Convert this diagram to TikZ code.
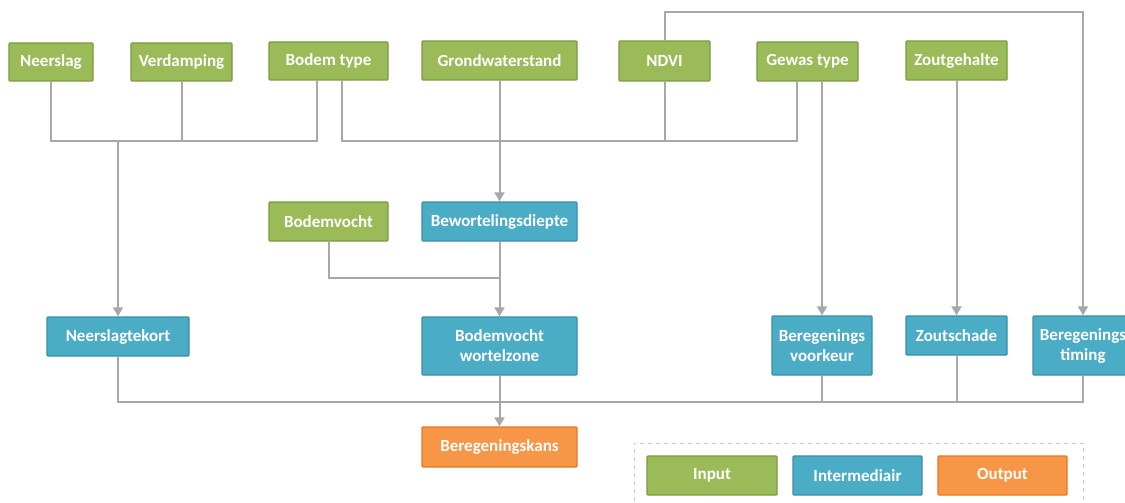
\documentclass[tikz,border=0pt]{standalone}
\usepackage{fontspec}
\setmainfont{Carlito}
\usetikzlibrary{arrows.meta}
\definecolor{ingreen}{HTML}{9BBB59}
\definecolor{ingreenb}{HTML}{7A9A3E}
\definecolor{midblue}{HTML}{4BACC6}
\definecolor{midblueb}{HTML}{3A8FA6}
\definecolor{outorange}{HTML}{F79646}
\definecolor{outorangeb}{HTML}{E9781E}
\definecolor{conngray}{HTML}{A8A8A8}
\definecolor{leggray}{HTML}{C8C8C8}
\tikzset{
  box/.style={draw, line width=1.4pt, rounded corners=1pt, inner sep=0pt,
    text=white, align=center, font=\fontsize{17}{20}\selectfont\bfseries},
  inbox/.style={box, fill=ingreen, draw=ingreenb},
  midbox/.style={box, fill=midblue, draw=midblueb},
  outbox/.style={box, fill=outorange, draw=outorangeb},
  wire/.style={draw=conngray, line width=2pt},
  arr/.style={wire, -{Triangle[width=10pt,length=9pt]}},
}
\begin{document}
\begin{tikzpicture}[x=1pt,y=-1pt]
\useasboundingbox (0,0) rectangle (1125,503);
\clip (0,0) rectangle (1125,503);
\fill[white] (0,0) rectangle (1125,503);

% top row (inputs)
\node[inbox, minimum width=84pt, minimum height=38pt] (neer) at (51,62) {Neerslag};
\node[inbox, minimum width=101pt, minimum height=38pt] (verd) at (181.5,62) {Verdamping};
\node[inbox, minimum width=119pt, minimum height=38pt] (bodem) at (328.5,61) {Bodem type};
\node[inbox, minimum width=155pt, minimum height=39pt] (grond) at (499.5,60.5) {Grondwaterstand};
\node[inbox, minimum width=91pt, minimum height=40pt] (ndvi) at (664.5,61) {NDVI};
\node[inbox, minimum width=101pt, minimum height=39pt] (gewas) at (807.5,61.5) {Gewas type};
\node[inbox, minimum width=101pt, minimum height=39pt] (zout) at (956.5,60.5) {Zoutgehalte};

% middle row
\node[inbox, minimum width=119pt, minimum height=39pt] (bvocht) at (328.5,221.5) {Bodemvocht};
\node[midbox, minimum width=155pt, minimum height=39pt] (bewort) at (499.5,221.5) {Bewortelingsdiepte};

% third row
\node[midbox, minimum width=142pt, minimum height=39pt] (ntek) at (118,336.5) {Neerslagtekort};
\node[midbox, minimum width=155pt, minimum height=58pt] (wz) at (499.5,346) {Bodemvocht\\wortelzone};
\node[midbox, minimum width=100pt, minimum height=59pt] (vk) at (822,345.5) {Beregenings\\voorkeur};
\node[midbox, minimum width=101pt, minimum height=39pt] (zs) at (956.5,335.5) {Zoutschade};
\node[midbox, minimum width=100pt, minimum height=59pt] (timing) at (1083,345.5) {Beregenings\\timing};

% output
\node[outbox, minimum width=155pt, minimum height=40pt] (kans) at (499.5,447) {Beregeningskans};

% junction coordinates
\coordinate (h1) at (118,141);
\coordinate (h2) at (500,141);
\coordinate (h3) at (500,278);
\coordinate (h4) at (500,402);
\coordinate (topline) at (0,12);
\path ([xshift=-12pt]bodem.south) coordinate (bodemL);
\path ([xshift=13pt]bodem.south) coordinate (bodemR);
\path ([xshift=-11pt]gewas.south) coordinate (gewasL);
\path ([xshift=14.5pt]gewas.south) coordinate (gewasR);

% connectors: Neerslag, Verdamping, Bodem type -> Neerslagtekort
\draw[wire] (neer.south) |- (bodemL |- h1) -- (bodemL);
\draw[wire] (verd.south) -- (verd.south |- h1);
\draw[arr] (h1) -- (ntek.north);

% Bodem type, NDVI, Gewas type, Grondwaterstand -> Bewortelingsdiepte
\draw[wire] (bodemR) |- (gewasL |- h2) -- (gewasL);
\draw[wire] (ndvi.south) -- (ndvi.south |- h2);
\draw[arr] (grond.south) -- (bewort.north);

% Gewas type -> Beregenings voorkeur
\draw[arr] (gewasR) -- (gewasR |- vk.north);
% NDVI -> Beregenings timing
\draw[arr] (ndvi.north) |- (timing.north |- topline) -- (timing.north);
% Zoutgehalte -> Zoutschade
\draw[arr] (zout.south) -- (zs.north);

% Bodemvocht, Bewortelingsdiepte -> Bodemvocht wortelzone
\draw[wire] (bvocht.south) |- (h3);
\draw[arr] (bewort.south) -- (wz.north);

% intermediates -> Beregeningskans
\draw[wire] (ntek.south) |- (timing.south |- h4) -- (timing.south);
\draw[wire] (vk.south) -- (vk.south |- h4);
\draw[wire] (zs.south) -- (zs.south |- h4);
\draw[arr] (wz.south) -- (kans.north);

% legend
\node[draw=leggray, line width=1pt, dash pattern=on 4pt off 4pt, minimum width=449pt, minimum height=80pt, inner sep=0pt] (legend) at (858.5,483) {};
\node[inbox, minimum width=130pt, minimum height=39pt] (lin) at (712,475.5) {Input};
\node[midbox, minimum width=129pt, minimum height=39pt] (lmid) at (857.5,475.5) {Intermediair};
\node[outbox, minimum width=129pt, minimum height=39pt] (lout) at (1002.5,475.5) {Output};
\end{tikzpicture}
\end{document}
